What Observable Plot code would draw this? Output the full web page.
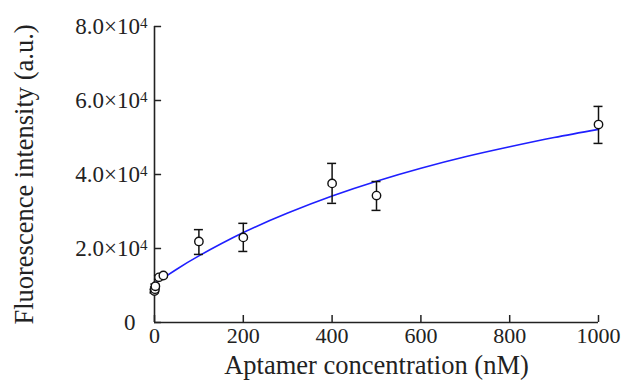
<!DOCTYPE html>
<html><head><meta charset="utf-8">
<script src="https://cdn.jsdelivr.net/npm/d3@7"></script>
<script src="https://cdn.jsdelivr.net/npm/@observablehq/plot@0.6"></script>
<style>body{margin:0;background:#fff} svg{display:block}</style>
</head><body><div id="chart"></div>
<script>
const concentration = [0, 1, 2, 10, 20, 100, 200, 400, 500, 1000];
const intensity = [8500, 9000, 9800, 12200, 12700, 21900, 23000, 37600, 34300, 53500];
const errLow = [8000, 8400, 9200, 11700, 12200, 18400, 19200, 32200, 30300, 48400];
const errHigh = [9000, 9600, 10400, 12700, 13200, 25100, 26800, 43000, 38100, 58400];
const fitX = [0, 50, 100, 200, 300, 400, 500, 600, 700, 800, 900, 1000];
const fitY = [10500, 14400, 18000, 24300, 29600, 34200, 38200, 41700, 44800, 47500, 50000, 52200];
const xTicks = [0, 200, 400, 600, 800, 1000];
const yTicks = [0, 20000, 40000, 60000, 80000];
const yTickLabels = ["0", "2.0×10", "4.0×10", "6.0×10", "8.0×10"];
const yExponent = "4";

const points = concentration.map((x, i) => ({x, y: intensity[i], lo: errLow[i], hi: errHigh[i]}));
const fit = fitX.map((x, i) => ({x, y: fitY[i]}));

const ink = "#222";
const chart = Plot.plot({
  width: 627, height: 389,
  marginLeft: 154, marginRight: 29, marginTop: 26, marginBottom: 67,
  style: {fontFamily: "'Liberation Serif', 'Times New Roman', serif", color: ink, background: "#fff"},
  x: {domain: [0, 1000]},
  y: {domain: [0, 80000]},
  marks: [
    Plot.axisX({ticks: xTicks, tickSize: 0, tickPadding: 5, tickFormat: d => String(d), label: "Aptamer concentration (nM)", labelAnchor: "center", labelArrow: "none", labelOffset: 51}),
    Plot.axisY({ticks: yTicks, tickSize: 0, tickPadding: 7, tickFormat: (d) => yTickLabels[yTicks.indexOf(d)], label: "Fluorescence intensity (a.u.)", labelAnchor: "center", labelArrow: "none", labelOffset: 140}),
    Plot.ruleY(yTicks, {y: d => d, x1: 0, x2: 16, stroke: ink, strokeWidth: 1.5}),
    Plot.ruleX(xTicks, {x: d => d, y1: 0, y2: 1900, stroke: ink, strokeWidth: 1.5}),
    Plot.ruleX([0], {y1: 0, y2: 80000, stroke: ink, strokeWidth: 1.6}),
    Plot.ruleY([0], {x1: 0, x2: 1000, stroke: ink, strokeWidth: 1.6}),
    Plot.line(fit, {x: "x", y: "y", stroke: "#1f1fff", strokeWidth: 1.6, curve: "natural"}),
    Plot.ruleX(points, {x: "x", y1: "lo", y2: "hi", stroke: "#111", strokeWidth: 1.5}),
    Plot.ruleY(points, {y: "hi", x1: "x", x2: "x", insetLeft: -4.5, insetRight: -4.5, stroke: "#111", strokeWidth: 1.5}),
    Plot.ruleY(points, {y: "lo", x1: "x", x2: "x", insetLeft: -4.5, insetRight: -4.5, stroke: "#111", strokeWidth: 1.5}),
    Plot.dot(points, {x: "x", y: "y", r: 4.2, fill: "#fff", stroke: "#111", strokeWidth: 1.4})
  ]
});
document.getElementById("chart").appendChild(chart);

const svg = d3.select(chart);
svg.selectAll('g[aria-label="x-axis tick label"] text').style("font-size", "22px");
svg.selectAll('g[aria-label="y-axis tick label"] text').style("font-size", "23px");
svg.selectAll('g[aria-label="x-axis label"] text, g[aria-label="y-axis label"] text').style("font-size", "26.5px");
svg.selectAll('g[aria-label="y-axis tick label"] text').each(function() {
  const t = d3.select(this);
  if (t.text() === "0") {
    t.attr("dx", -12);
  } else {
    t.append("tspan").attr("dy", "-0.42em").style("font-size", "15px").text(yExponent);
  }
});
</script></body></html>
